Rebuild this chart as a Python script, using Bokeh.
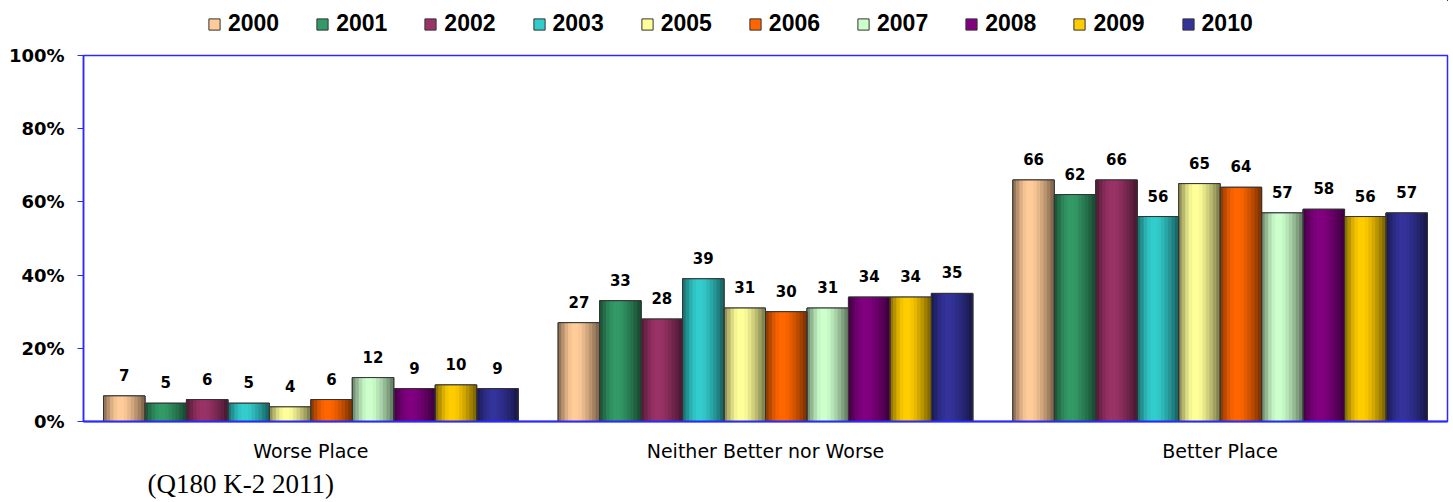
from bokeh.plotting import figure
from bokeh.layouts import column
from bokeh.models import (ColumnDataSource, Range1d, FixedTicker, PrintfTickFormatter,
                          Legend, LegendItem, LabelSet, Title)
from bokeh.core.properties import value
from bokeh.embed import file_html
from bokeh.resources import INLINE

categories = ["Worse Place", "Neither Better nor Worse", "Better Place"]
years = ["2000", "2001", "2002", "2003", "2005", "2006", "2007", "2008", "2009", "2010"]
colors = ["#FFCC99", "#339966", "#993366", "#33CCCC", "#FFFF99",
          "#FF6600", "#CCFFCC", "#800080", "#FFCC00", "#333399"]
v2000 = [7, 27, 66]
v2001 = [5, 33, 62]
v2002 = [6, 28, 66]
v2003 = [5, 39, 56]
v2005 = [4, 31, 65]
v2006 = [6, 30, 64]
v2007 = [12, 31, 57]
v2008 = [9, 34, 58]
v2009 = [10, 34, 56]
v2010 = [9, 35, 57]
series = [v2000, v2001, v2002, v2003, v2005, v2006, v2007, v2008, v2009, v2010]
yticks = [0, 20, 40, 60, 80, 100]
note = "(Q180 K-2 2011)"

AXIS_BLUE = "#2a2aff"
BAR_W = 0.0912
W = 1453
LEG_H = 43

# ---- legend strip (its own small figure) ----
lf = figure(width=W, height=LEG_H, output_backend="svg", toolbar_location=None,
            x_range=Range1d(0, 1), y_range=Range1d(0, 1),
            x_axis_type=None, y_axis_type=None,
            min_border_left=0, min_border_right=0, min_border_top=0, min_border_bottom=0)
lf.grid.visible = False
lf.outline_line_color = None
leg_items = []
for yr, col in zip(years, colors):
    # proxy renderer placed outside the visible range: only its legend swatch shows
    r = lf.vbar(x=[5], top=[5], bottom=[4], width=0.1, fill_color=col, line_color="#333333")
    leg_items.append(LegendItem(label=yr, renderers=[r]))
legend = Legend(items=leg_items, orientation="horizontal", location=(124, 6),
                spacing=36, label_standoff=7, glyph_width=14, glyph_height=14,
                padding=2, margin=0, border_line_color=None, background_fill_alpha=0,
                label_text_font="Liberation Sans", label_text_font_style="bold",
                label_text_font_size="23px", label_text_color="black")
lf.add_layout(legend, "center")

# ---- main chart ----
p = figure(width=W, height=502 - LEG_H, output_backend="svg", toolbar_location=None,
           x_range=Range1d(0, 3), y_range=Range1d(0, 100),
           min_border_left=83, min_border_right=6, min_border_top=12, min_border_bottom=81)
p.grid.visible = False
p.outline_line_color = AXIS_BLUE
p.outline_line_width = 1.5
p.background_fill_color = "white"
p.border_fill_color = "white"

def shade(hexcol, a):
    r = int(hexcol[1:3], 16); g = int(hexcol[3:5], 16); b = int(hexcol[5:7], 16)
    f = 1 - a
    return "#%02x%02x%02x" % (int(r * f), int(g * f), int(b * f))

NSTRIP = 12
alphas = [0.42, 0.28, 0.14, 0.04, 0.0, 0.0, 0.03, 0.1, 0.18, 0.27, 0.37, 0.48]

all_x, all_top, all_col = [], [], []
for i, (yr, col, vals) in enumerate(zip(years, colors, series)):
    xs = [c + 0.5 + (i - 4.5) * BAR_W for c in range(len(categories))]
    src = ColumnDataSource(dict(x=xs, top=vals, lab=[str(v) for v in vals]))
    p.vbar(x="x", top="top", width=BAR_W, bottom=0, source=src,
           fill_color=col, line_color="#333333", line_width=1)
    all_x += xs; all_top += vals; all_col += [col] * len(vals)
    lbl = LabelSet(x="x", y="top", text="lab", source=src, text_align="center",
                   text_baseline="bottom", y_offset=15, text_font=value("DejaVu Sans"),
                   text_font_style="bold", text_font_size="15px", text_color="black")
    p.add_layout(lbl)

sw = BAR_W / NSTRIP
for j in range(NSTRIP):
    xs = [x - BAR_W / 2 + (j + 0.5) * sw for x in all_x]
    cs = [shade(c, alphas[j]) for c in all_col]
    p.vbar(x=xs, top=all_top, bottom=0, width=sw * 1.25, fill_color=cs, line_color=None)

p.vbar(x=all_x, top=all_top, bottom=0, width=BAR_W, fill_color=None,
       line_color="#333333", line_width=1)

# y axis
p.yaxis.ticker = FixedTicker(ticks=yticks)
p.yaxis.formatter = PrintfTickFormatter(format="%d%%")
p.yaxis.axis_line_color = AXIS_BLUE
p.yaxis.axis_line_width = 1.5
p.yaxis.major_tick_line_color = AXIS_BLUE
p.yaxis.major_tick_out = 6
p.yaxis.major_tick_in = 0
p.yaxis.minor_tick_line_color = None
p.yaxis.major_label_standoff = 13
p.yaxis.major_label_text_font = "DejaVu Sans"
p.yaxis.major_label_text_font_style = "bold"
p.yaxis.major_label_text_font_size = "18px"
p.yaxis.major_label_text_color = "black"

# x axis
p.xaxis.ticker = FixedTicker(ticks=[c + 0.5 for c in range(len(categories))])
p.xaxis.major_label_overrides = {c + 0.5: name for c, name in enumerate(categories)}
p.xaxis.axis_line_color = AXIS_BLUE
p.xaxis.axis_line_width = 2
p.xaxis.major_tick_line_color = None
p.xaxis.minor_tick_line_color = None
p.xaxis.major_tick_out = 0
p.xaxis.major_tick_in = 0
p.xaxis.major_label_standoff = 18
p.xaxis.major_label_text_font = "DejaVu Sans"
p.xaxis.major_label_text_font_size = "19px"
p.xaxis.major_label_text_color = "black"

t = Title(text=note, align="left", offset=64, text_font="Liberation Serif",
          text_font_style="normal", text_font_size="27px", text_color="black",
          standoff=4)
p.add_layout(t, "below")

open("out.html", "w").write(file_html(column(lf, p, spacing=0), INLINE))
